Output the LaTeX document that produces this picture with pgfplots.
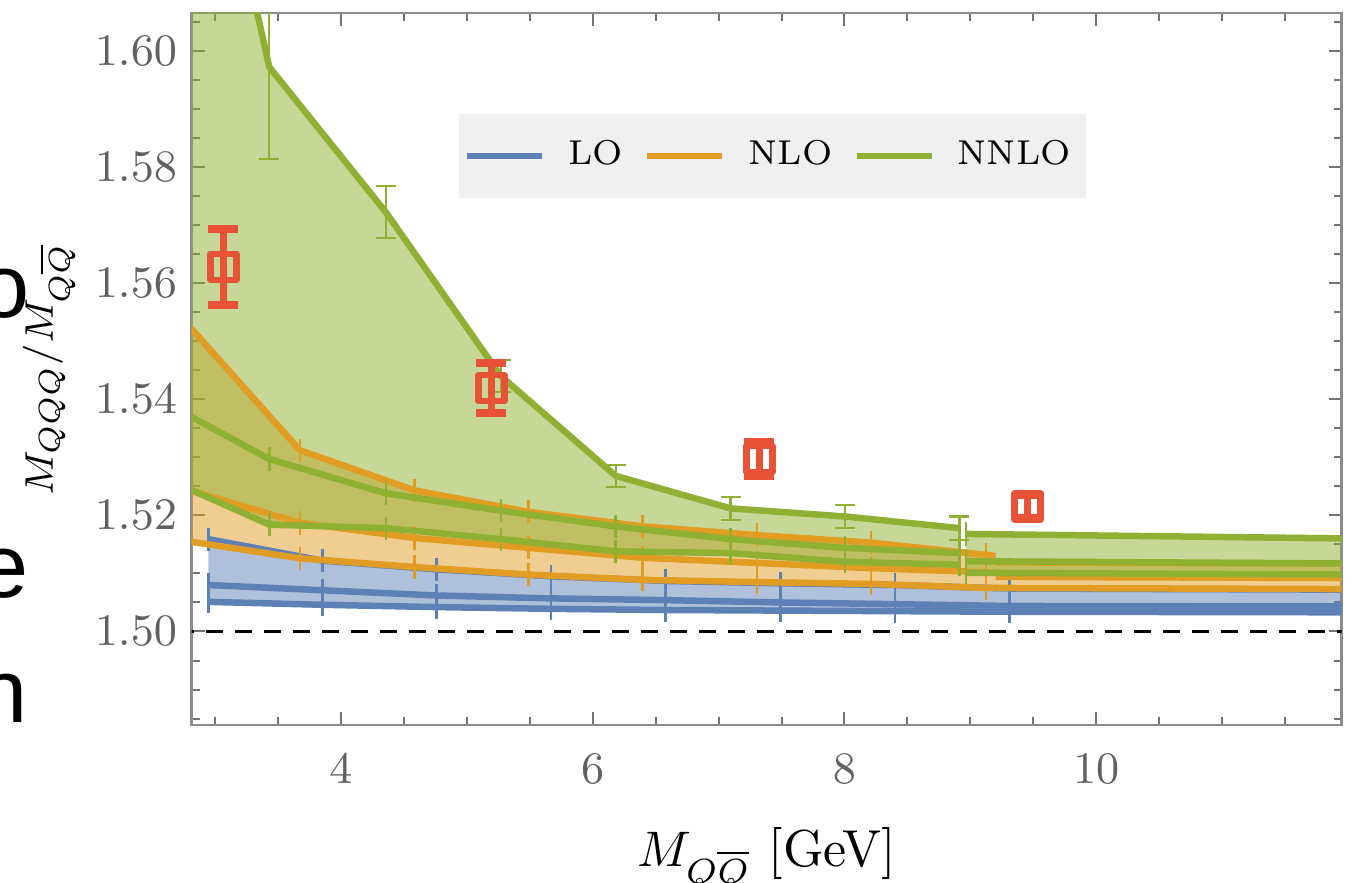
\documentclass[border=0pt]{standalone}
\usepackage{fontspec}
\usepackage{pgfplots}
\pgfplotsset{compat=1.18}
\usepackage{pgfplotstable}
\usepgfplotslibrary{fillbetween}
\newfontfamily\slidefont{Liberation Sans}

\definecolor{cLO}{HTML}{5E81B5}
\definecolor{cNLO}{HTML}{E19C24}
\definecolor{cNNLO}{HTML}{8FB032}
\definecolor{cRed}{HTML}{E85338}

\pgfplotsset{
  errline/.style={line width=1.3pt, forget plot,
    error bars/.cd, y dir=both, y explicit, error mark=none,
    error bar style={line width=0.5pt}},
  errcap/.style={line width=1.3pt, forget plot,
    error bars/.cd, y dir=both, y explicit, error mark=-,
    error bar style={line width=0.45pt},
    error mark options={rotate=90, mark size=2pt, line width=0.45pt}},
}

% LO: x, top, mid, low, error
\pgfplotstableread{
x      a      b      c      e
2.947  1.5159 1.5080 1.5051 0.0020
3.855  1.5122 1.5071 1.5046 0.0020
4.760  1.5107 1.5062 1.5042 0.0020
5.670  1.5095 1.5057 1.5039 0.0020
6.580  1.5087 1.5054 1.5037 0.0020
7.490  1.5083 1.5050 1.5036 0.0020
8.400  1.5080 1.5047 1.5035 0.0020
9.310  1.5074 1.5044 1.5034 0.0020
12.05  1.5072 1.5043 1.5033 0.0000
}\lotab

% NLO segment 1
\pgfplotstableread{
x      a      b      c      e
2.765  1.5533 1.5245 1.5156 0.0020
3.675  1.5312 1.5187 1.5126 0.0020
4.585  1.5243 1.5161 1.5111 0.0020
5.490  1.5206 1.5144 1.5098 0.0020
6.394  1.5181 1.5127 1.5089 0.0020
7.304  1.5166 1.5118 1.5085 0.0020
8.212  1.5153 1.5109 1.5082 0.0020
9.125  1.5132 1.5102 1.5075 0.0020
9.200  1.5130 1.5101 1.5075 0.0000
}\nloone
% NLO segment 2
\pgfplotstableread{
x      a      b      c
9.200  1.5119 1.5094 1.5075
12.05  1.5117 1.5092 1.5073
}\nlotwo

% NNLO segment 1
\pgfplotstableread{
x      a      b      c      ea     e
2.520  1.6860 1.5404 1.5272 0.0000 0.0020
3.431  1.5972 1.5297 1.5184 0.0159 0.0020
4.357  1.5722 1.5238 1.5178 0.0045 0.0020
5.270  1.5440 1.5208 1.5159 0.0028 0.0020
6.183  1.5268 1.5181 1.5138 0.0019 0.0020
7.095  1.5212 1.5159 1.5135 0.0020 0.0020
8.005  1.5198 1.5144 1.5120 0.0020 0.0020
8.913  1.5178 1.5135 1.5115 0.0020 0.0020
}\nnloone
% NNLO segment 2
\pgfplotstableread{
x      a      b      c      e
8.966  1.5168 1.5121 1.5101 0.0020
12.05  1.5160 1.5117 1.5098 0.0000
}\nnlotwo

% lattice points
\pgfplotstableread{
x      y      e
3.066  1.5628 0.0065
5.196  1.5419 0.0043
7.325  1.5297 0.0030
9.455  1.5215 0.0020
}\redtab

\begin{document}
\begin{tikzpicture}
\begin{axis}[
  scale only axis, width=230pt, height=142.4pt,
  xmin=2.815, xmax=11.95, ymin=1.4839, ymax=1.6065,
  xtick={4,6,8,10}, minor xtick={3,3.5,...,11.5},
  ytick={1.50,1.52,1.54,1.56,1.58,1.60},
  minor ytick={1.485,1.490,...,1.605},
  y tick label style={/pgf/number format/fixed, /pgf/number format/fixed zerofill,
     /pgf/number format/precision=2, xshift=0.6pt},
  x tick label style={yshift=-2.4pt},
  tick label style={font=\fontsize{9.4}{11}\selectfont, text=black!62},
  tick align=inside,
  major tick length=2.6pt, minor tick length=1.6pt,
  tick style={black!55, line width=0.4pt},
  minor tick style={black!55, line width=0.4pt},
  axis line style={black!45, line width=0.5pt},
  xlabel={$M_{Q\overline{Q}}$ [GeV]},
  xlabel style={at={(axis description cs:0.5,-0.1994)}, anchor=base, font=\fontsize{10.4}{12}\selectfont},
  ylabel={$M_{QQQ}/M_{Q\overline{Q}}$},
  ylabel style={at={(axis description cs:-0.1206,0.5)}, anchor=base, font=\fontsize{8.5}{10}\selectfont},
  legend columns=3,
  legend image code/.code={\draw (0pt,0pt) -- (15pt,0pt);},
  legend style={at={(axis description cs:0.2316,0.8596)}, anchor=north west,
    draw=none, fill=black!6, font=\fontsize{6.9}{8}\selectfont, text=black,
    inner xsep=1pt, inner ysep=3.2pt,
    /tikz/every odd column/.append style={column sep=2.6pt},
    /tikz/every even column/.append style={column sep=2.2pt}},
  legend cell align=left,
  line join=round,
]
% reference line
\addplot[black, dash pattern=on 3.4pt off 2.4pt, line width=0.75pt, forget plot]
  coordinates {(2.70,1.5) (12.2,1.5)};

% ---------- LO ----------
\addplot[draw=none, forget plot, name path=loA] table[x=x,y=a]{\lotab};
\addplot[draw=none, forget plot, name path=loC] table[x=x,y=c]{\lotab};
\addplot[fill=cLO, fill opacity=0.5, draw=none, forget plot] fill between[of=loA and loC];
\addplot[cLO, errline] table[x=x, y=a, y error=e]{\lotab};
\addplot[cLO, errline] table[x=x, y=b, y error=e]{\lotab};
\addplot[cLO, errline] table[x=x, y=c, y error=e]{\lotab};

% ---------- NLO ----------
\addplot[draw=none, forget plot, name path=nloA1] table[x=x,y=a]{\nloone};
\addplot[draw=none, forget plot, name path=nloC1] table[x=x,y=c]{\nloone};
\addplot[fill=cNLO, fill opacity=0.5, draw=none, forget plot] fill between[of=nloA1 and nloC1];
\addplot[draw=none, forget plot, name path=nloA2] table[x=x,y=a]{\nlotwo};
\addplot[draw=none, forget plot, name path=nloC2] table[x=x,y=c]{\nlotwo};
\addplot[fill=cNLO, fill opacity=0.5, draw=none, forget plot] fill between[of=nloA2 and nloC2];
\addplot[cNLO, errline] table[x=x, y=a, y error=e]{\nloone};
\addplot[cNLO, errline] table[x=x, y=b, y error=e]{\nloone};
\addplot[cNLO, errline] table[x=x, y=c, y error=e]{\nloone};
\addplot[cNLO, line width=1.3pt, forget plot] table[x=x, y=a]{\nlotwo};
\addplot[cNLO, line width=1.3pt, forget plot] table[x=x, y=b]{\nlotwo};
\addplot[cNLO, line width=1.3pt, forget plot] table[x=x, y=c]{\nlotwo};

% ---------- NNLO ----------
\addplot[draw=none, forget plot, name path=nnloA1] table[x=x,y=a]{\nnloone};
\addplot[draw=none, forget plot, name path=nnloC1] table[x=x,y=c]{\nnloone};
\addplot[fill=cNNLO, fill opacity=0.5, draw=none, forget plot] fill between[of=nnloA1 and nnloC1];
\addplot[draw=none, forget plot, name path=nnloA2] table[x=x,y=a]{\nnlotwo};
\addplot[draw=none, forget plot, name path=nnloC2] table[x=x,y=c]{\nnlotwo};
\addplot[fill=cNNLO, fill opacity=0.5, draw=none, forget plot] fill between[of=nnloA2 and nnloC2];
\addplot[cNNLO, errcap] table[x=x, y=a, y error=ea]{\nnloone};
\addplot[cNNLO, errline] table[x=x, y=b, y error=e]{\nnloone};
\addplot[cNNLO, errline] table[x=x, y=c, y error=e]{\nnloone};
\addplot[cNNLO, errline] table[x=x, y=a, y error=e]{\nnlotwo};
\addplot[cNNLO, errline] table[x=x, y=b, y error=e]{\nnlotwo};
\addplot[cNNLO, errline] table[x=x, y=c, y error=e]{\nnlotwo};

% ---------- lattice points ----------
\addplot[cRed, only marks, mark=square, mark size=2.6pt, mark options={line width=1.3pt}, forget plot,
  error bars/.cd, y dir=both, y explicit, error mark=-,
  error bar style={line width=1.4pt},
  error mark options={rotate=90, mark size=3pt, line width=1.6pt}]
  table[x=x, y=y, y error=e]{\redtab};

\addlegendimage{cLO, line width=1.3pt}
\addlegendentry{LO}
\addlegendimage{cNLO, line width=1.3pt}
\addlegendentry{NLO}
\addlegendimage{cNNLO, line width=1.3pt}
\addlegendentry{NNLO}
\end{axis}

% fragments of neighbouring slide text
\node[anchor=base east, inner sep=0pt, font=\slidefont\fontsize{18}{20}\selectfont]
  at ([shift={(-32.14pt,81.4pt)}]current axis.south west) {o};
\node[anchor=base east, inner sep=0pt, font=\slidefont\fontsize{18}{20}\selectfont]
  at ([shift={(-32.34pt,25.4pt)}]current axis.south west) {e};
\node[anchor=base east, inner sep=0pt, font=\slidefont\fontsize{18}{20}\selectfont]
  at ([shift={(-32.54pt,0.4pt)}]current axis.south west) {n};

\pgfresetboundingbox
\path ([shift={(-38.34pt,-31.6pt)}]current axis.south west) rectangle ([shift={(235.06pt,145pt)}]current axis.south west);
\end{tikzpicture}
\end{document}
